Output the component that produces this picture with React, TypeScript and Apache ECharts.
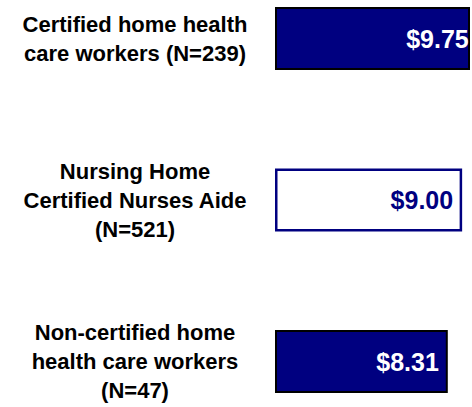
import React, { useEffect, useRef } from "react";
import * as echarts from "echarts";

const categories = [
  "Certified home health\ncare workers (N=239)",
  "Nursing Home\nCertified Nurses Aide\n(N=521)",
  "Non-certified home\nhealth care workers\n(N=47)",
];
const values = [9.75, 9.0, 8.31];
const valueLabels = ["$9.75", "$9.00", "$8.31"];

const NAVY = "#000080";

export default function App() {
  const ref = useRef<HTMLDivElement>(null);
  useEffect(() => {
    document.body.style.margin = "0";
    const chart = echarts.init(ref.current!, null, { renderer: "svg" });
    const barStyles = [
      { color: NAVY, borderColor: "#000000", borderWidth: 2 },
      { color: "#ffffff", borderColor: NAVY, borderWidth: 2.5 },
      { color: NAVY, borderColor: "#000000", borderWidth: 2 },
    ];
    const labelColors = ["#ffffff", NAVY, "#ffffff"];
    chart.setOption({
      animation: false,
      backgroundColor: "#ffffff",
      grid: { left: 275, right: 3, top: 38.5, bottom: 45.5, containLabel: false },
      xAxis: {
        type: "value",
        min: 0,
        max: 9.33,
        show: false,
      },
      yAxis: {
        type: "category",
        data: categories,
        inverse: true,
        boundaryGap: false,
        axisLine: { show: false },
        axisTick: { show: false },
        splitLine: { show: false },
        axisLabel: {
          margin: 140,
          align: "center",
          verticalAlign: "middle",
          fontFamily: "Liberation Sans, Arial, sans-serif",
          fontWeight: "bold",
          fontSize: 22,
          lineHeight: 29,
          color: "#000000",
        },
      },
      series: [
        {
          type: "bar",
          barWidth: 63,
          barGap: "-100%",
          clip: true,
          data: values.map((v, i) => ({ value: v, itemStyle: barStyles[i] })),
          label: { show: false },
        },
        {
          type: "bar",
          barWidth: 63,
          barGap: "-100%",
          clip: false,
          silent: true,
          itemStyle: { color: "rgba(0,0,0,0)" },
          data: values.map((v, i) => ({
            value: v,
            label: {
              show: true,
              position: "insideRight",
              distance: 9,
              formatter: valueLabels[i],
              color: labelColors[i],
              fontFamily: "Liberation Sans, Arial, sans-serif",
              fontWeight: "bold",
              fontSize: 25,
            },
          })),
        },
      ],
    });
    return () => chart.dispose();
  }, []);
  return <div ref={ref} style={{ width: 472, height: 407 }} />;
}
